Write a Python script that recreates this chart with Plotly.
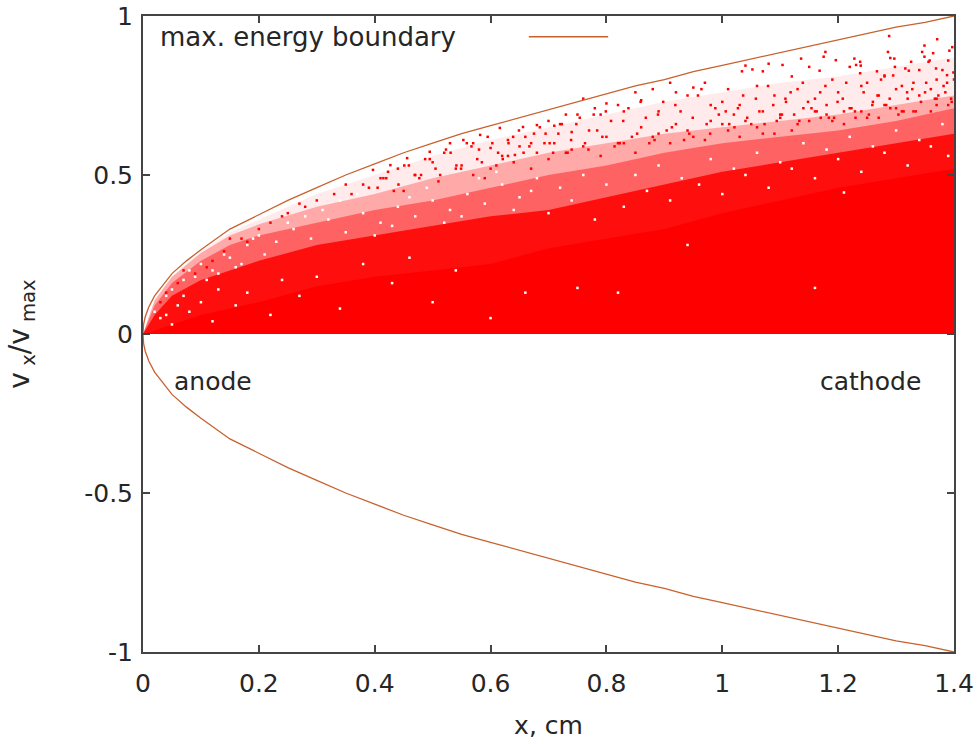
import plotly.graph_objects as go

# Boundary curve
bx = [0, .001, .004, .01, .02, .035, .05, .075, .1, .15, .2, .25, .3, .35, .4, .45, .5, .55, .6, .65, .7, .75, .8, .85, .9, .95, 1, 1.05, 1.1, 1.15, 1.2, 1.25, 1.3, 1.35, 1.4]
bv = [0, .03, .055, .085, .12, .155, .19, .23, .265, .33, .375, .42, .46, .5, .535, .57, .6, .63, .655, .68, .705, .73, .755, .78, .8, .825, .845, .865, .885, .905, .925, .945, .965, .98, 1.0]

# Envelopes of the scatter cloud at increasing density
ex = [0, .02, .05, .1, .15, .2, .3, .4, .5, .6, .7, .8, .9, 1, 1.1, 1.2, 1.3, 1.4]
faint_top = [0, .11, .18, .26, .32, .36, .44, .50, .56, .61, .65, .69, .73, .76, .79, .81, .84, .87]
sparse_top = [0, .105, .18, .255, .31, .345, .40, .44, .49, .53, .57, .60, .63, .65, .67, .69, .72, .75]
speckle_top = [0, .09, .16, .23, .28, .31, .35, .39, .42, .46, .50, .53, .57, .60, .62, .64, .67, .71]
dense_top = [0, .06, .12, .17, .20, .23, .28, .31, .34, .37, .39, .43, .47, .51, .54, .57, .60, .63]
solid_top = [0, .01, .03, .06, .08, .10, .15, .18, .20, .22, .27, .30, .33, .38, .42, .46, .49, .52]

# Individual particles readable in the sparse part of the cloud
dot_x = [1.288,1.371,1.349,1.397,1.392,1.286,1.178,1.345,1.364,1.175,1.29,1.297,1.136,1.228,1.196,1.349,1.356,1.326,1.238,1.231,1.239,1.104,1.04,1.052,1.034,1.07,1.168,1.267,1.28,1.295,1.316,1.322,1.369,1.388,1.399,
 .642,.656,.68,.616,.582,.553,.53,.495,.456,.427,.397,.63,.6,.57,.66,.695,.72,.75,.78,.74,.71,.8,.83,.86,.89,.92,.95,.98,1.01,1.0,.97,.94,.91,.88,.85,.82,.79,.76,.73,.7,.67,
 1.08,1.12,1.15,1.19,1.22,1.25,1.28,1.31,1.34,1.37,1.39,1.06,1.09,1.13,1.16,1.2,1.24,1.27,1.3,1.33,1.36,1.38,1.4,1.03,1.07,1.11,1.14,1.18,1.21,1.26,1.29,1.32,1.35,1.37,1.39,1.02,1.05,1.1,1.17,1.23,
 .62,.65,.68,.71,.74,.77,.8,.83,.86,.89,.92,.95,.98,1.01,1.04,1.07,1.1,1.13,1.16,1.19,1.22,1.25,1.28,1.31,1.34,1.37,1.395,.64,.67,.7,.73,.76,.79,.82,.85,.88,.91,.94,.97,1.0,1.03,1.06,1.09,1.12,1.15,1.18,1.21,1.24,1.27,1.3,1.33,1.36,1.385,
 .38,.41,.44,.47,.5,.52,.55,.58,.6,.63,.36,.39,.42,.45,.48,.51,.54,.57,.59,.61,.3,.33,.35,.28,.25,.22,.18,.15,.12,.09,.07,.04,.03,.06,.11,.14,.17,.2,.24,.27,
 1.012,1.027,1.043,1.058,1.073,1.088,1.103,1.118,1.133,1.148,1.163,1.178,1.193,1.208,1.223,1.238,1.253,1.268,1.283,1.298,1.313,1.328,1.343,1.358,1.373,1.388,
 1.006,1.021,1.036,1.064,1.079,1.094,1.109,1.124,1.139,1.154,1.169,1.184,1.199,1.214,1.229,1.244,1.259,1.274,1.289,1.304,1.319,1.334,1.352,1.367,1.382,1.396,
 .702,.717,.733,.748,.763,.778,.793,.808,.823,.838,.853,.868,.883,.898,.913,.928,.943,.958,.973,.988,
 .708,.723,.739,.754,.769,.784,.799,.814,.829,.844,.859,.874,.889,.904,.919,.934,.949,.964,.979,.994,
 .405,.423,.441,.459,.477,.495,.513,.531,.549,.567,.585,.603,.621,.639,.657,.675,.693,
 .415,.433,.451,.469,.487,.505,.523,.541,.559,.577,.595,.613,.631,.649,.667,.685]
dot_v = [.937,.927,.907,.902,.891,.887,.887,.887,.883,.872,.868,.866,.866,.866,.861,.872,.856,.856,.856,.846,.844,.846,.844,.832,.826,.826,.828,.826,.813,.813,.835,.828,.835,.814,.822,
 .563,.651,.657,.648,.626,.61,.6,.573,.553,.531,.516,.61,.585,.6,.62,.63,.66,.69,.71,.635,.655,.725,.7,.735,.7,.76,.775,.72,.77,.73,.79,.75,.79,.77,.76,.72,.69,.74,.69,.67,.6,
 .85,.81,.84,.8,.84,.79,.81,.78,.83,.8,.86,.78,.75,.77,.74,.76,.78,.75,.77,.79,.77,.83,.8,.72,.7,.73,.71,.72,.7,.73,.71,.74,.76,.74,.72,.69,.66,.68,.68,.68,
 .56,.59,.57,.6,.58,.64,.62,.6,.65,.63,.66,.62,.67,.64,.67,.63,.69,.66,.7,.67,.71,.68,.72,.7,.75,.72,.74,.54,.52,.55,.57,.59,.56,.6,.57,.62,.6,.64,.61,.66,.62,.65,.63,.64,.67,.69,.66,.7,.68,.71,.7,.7,.76,
 .47,.49,.52,.5,.54,.57,.53,.58,.52,.56,.44,.46,.49,.45,.5,.48,.52,.5,.49,.53,.42,.44,.47,.4,.38,.35,.29,.3,.23,.19,.2,.13,.1,.16,.21,.26,.3,.33,.37,.41,
 .66,.71,.68,.74,.66,.72,.69,.76,.67,.73,.7,.78,.68,.74,.71,.82,.69,.75,.72,.84,.7,.77,.73,.86,.75,.79,
 .7,.65,.75,.7,.78,.67,.74,.69,.79,.71,.76,.68,.73,.79,.7,.76,.72,.8,.74,.69,.76,.7,.79,.74,.78,.73,
 .6,.63,.57,.66,.6,.69,.62,.67,.6,.71,.63,.68,.61,.73,.65,.7,.63,.75,.66,.71,
 .57,.66,.61,.68,.58,.64,.7,.59,.67,.62,.73,.6,.69,.64,.72,.61,.68,.77,.63,.69,
 .46,.51,.47,.53,.49,.55,.5,.57,.52,.59,.54,.6,.55,.62,.57,.63,.6,
 .49,.45,.53,.5,.55,.52,.58,.53,.6,.55,.62,.57,.6,.64,.59,.65]

# Holes visible inside the dense cloud
gap_x = [1.16,.75,.82,1.21,.94,.6,.66,.5,.43,.34,.27,.22,.16,.12,.08,.05,.03,.04,.07,.1,.13,.18,.24,.3,.38,.46,.54,
 .7,.74,.78,.83,.87,.91,.96,1.0,1.04,1.08,1.12,1.16,1.2,1.24,1.28,1.32,1.36,1.39,.72,.76,.8,.85,.89,.93,.98,1.02,1.06,1.1,1.14,1.18,1.22,1.26,1.3,1.34,1.38,
 .2,.23,.26,.29,.32,.35,.38,.41,.44,.47,.5,.53,.56,.59,.62,.65,.68,.21,.25,.28,.31,.34,.37,.4,.43,.46,.49,.52,.55,.58,.61,.64,.67,
 .06,.09,.12,.15,.18,.02,.05,.08,.11,.14,.17,.04,.07,.1,.13,.16,.19]
gap_v = [.145,.145,.13,.445,.28,.05,.13,.1,.16,.08,.12,.06,.09,.04,.07,.03,.05,.12,.12,.1,.14,.13,.17,.18,.22,.24,.2,
 .38,.42,.36,.4,.45,.42,.47,.44,.5,.46,.52,.49,.55,.51,.57,.53,.59,.56,.46,.5,.47,.5,.53,.49,.55,.52,.57,.54,.6,.58,.62,.59,.64,.61,.66,
 .31,.29,.33,.3,.36,.32,.38,.35,.4,.37,.42,.39,.44,.41,.47,.43,.49,.25,.35,.37,.39,.42,.44,.31,.34,.43,.46,.35,.37,.49,.51,.39,.45,
 .09,.18,.2,.24,.28,.07,.14,.2,.17,.25,.22,.06,.17,.22,.19,.21,.3]

xticks = [0, .2, .4, .6, .8, 1, 1.2, 1.4]
xtick_text = ["0", "0.2", "0.4", "0.6", "0.8", "1", "1.2", "1.4"]
yticks = [-1, -.5, 0, .5, 1]
ytick_text = ["-1", "-0.5", "0", "0.5", "1"]

RED = "#ff0000"
LINE = "#c8612e"
INK = "#262626"
FONT = "DejaVu Sans"
SIZE = 25

fig = go.Figure()
for top, alpha in [(faint_top, .08), (sparse_top, .28), (speckle_top, .42), (dense_top, .85), (solid_top, 1)]:
    fig.add_trace(go.Scatter(x=ex, y=top, mode="lines", line=dict(width=0), fill="tozeroy",
                             fillcolor=f"rgba(255,0,0,{alpha})", hoverinfo="skip", showlegend=False))
fig.add_trace(go.Scatter(x=dot_x, y=dot_v, mode="markers", showlegend=False,
                         marker=dict(color=RED, size=2.5, symbol="square", line=dict(width=0))))
fig.add_trace(go.Scatter(x=gap_x, y=gap_v, mode="markers", showlegend=False,
                         marker=dict(color="white", size=2.5, symbol="square", line=dict(width=0))))
fig.add_trace(go.Scatter(x=bx, y=bv, mode="lines", line=dict(color=LINE, width=1.3), showlegend=False))
fig.add_trace(go.Scatter(x=bx, y=[-v for v in bv], mode="lines", line=dict(color=LINE, width=1.3), showlegend=False))

axis = dict(showgrid=False, zeroline=False, showline=True, linecolor="#444444", linewidth=2, mirror="ticks",
            ticks="inside", ticklen=7, tickwidth=1.5, tickcolor="#444444", automargin=False,
            tickfont=dict(family=FONT, size=SIZE, color=INK))
fig.update_xaxes(axis, range=[0, 1.4], tickvals=xticks, ticktext=xtick_text, ticklabelstandoff=8,
                 title=dict(text="x, cm", font=dict(family=FONT, size=SIZE, color=INK), standoff=19))
fig.update_yaxes(axis, range=[-1, 1], tickvals=yticks, ticktext=ytick_text, ticklabelstandoff=3,
                 title=dict(text="v<sub> x</sub>/v<sub> max</sub>", font=dict(family=FONT, size=28, color=INK), standoff=46))
fig.add_annotation(x=.05, y=-.15, text="anode", showarrow=False, xanchor="left",
                   font=dict(family=FONT, size=SIZE, color=INK))
fig.add_annotation(x=1.347, y=-.15, text="cathode", showarrow=False, xanchor="right",
                   font=dict(family=FONT, size=SIZE, color=INK))
fig.add_annotation(x=.026, y=.935, text="max. energy boundary", showarrow=False, xanchor="left",
                   font=dict(family=FONT, size=26, color=INK))
fig.add_shape(type="line", x0=.666, x1=.803, y0=.935, y1=.935, line=dict(color=LINE, width=1.5))
fig.update_layout(width=980, height=744, margin=dict(l=143, r=26, t=16, b=92),
                  paper_bgcolor="white", plot_bgcolor="white", showlegend=False)
fig.write_html("out.html", post_script="document.body.style.margin='0';",
               config=dict(displayModeBar=False))
